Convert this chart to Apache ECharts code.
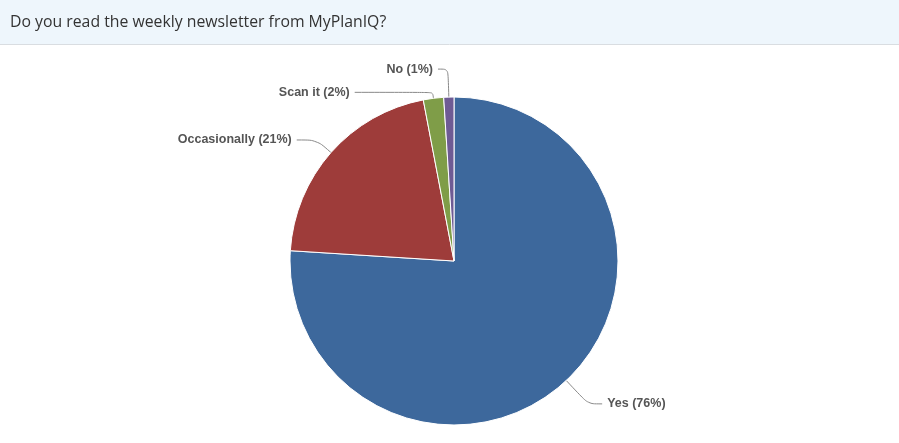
<!DOCTYPE html>
<html><head><meta charset="utf-8">
<script src="https://cdn.jsdelivr.net/npm/echarts@6/dist/echarts.min.js"></script>
<style>html,body{margin:0;padding:0;background:#fff}#c{width:899px;height:443px}</style>
</head><body><div id="c"></div>
<script>
const titleText = 'Do you read the weekly newsletter from MyPlanIQ?';
const categories = ['Yes', 'Occasionally', 'Scan it', 'No'];
const values = [76, 21, 2, 1];
const colors = ['#3d689c', '#9e3c3a', '#7f9d48', '#6e5b94'];
const connectorOut = [32, 19, 6, 28];
const connectorExtra = [14, 20, 78, 10];

const chart = echarts.init(document.getElementById('c'));
chart.setOption({
  animation: false,
  graphic: [
    {type: 'rect', shape: {x: 0, y: 0, width: 899, height: 44}, style: {fill: '#eef6fc'}, z: 0},
    {type: 'line', shape: {x1: 0, y1: 44.5, x2: 899, y2: 44.5}, style: {stroke: '#d9dde1', lineWidth: 1}, z: 1}
  ],
  title: {
    text: titleText, left: 5, top: 9,
    textStyle: {fontFamily: 'Open Sans', fontSize: 15.8, fontWeight: 'normal', color: '#333'}
  },
  series: [{
    type: 'pie',
    center: [454, 261],
    radius: 164,
    startAngle: 90,
    clockwise: true,
    data: categories.map((c, i) => ({
      name: c, value: values[i], itemStyle: {color: colors[i]},
      labelLine: {length: connectorOut[i], length2: connectorExtra[i]}
    })),
    itemStyle: {borderColor: '#fff', borderWidth: 1},
    label: {
      formatter: p => p.name + ' (' + p.value + '%)',
      fontFamily: 'Liberation Sans', fontSize: 12.5, fontWeight: 'bold', color: '#555'
    },
    labelLine: {lineStyle: {color: '#888', width: 1}, smooth: 0.3}
  }]
});
</script></body></html>
